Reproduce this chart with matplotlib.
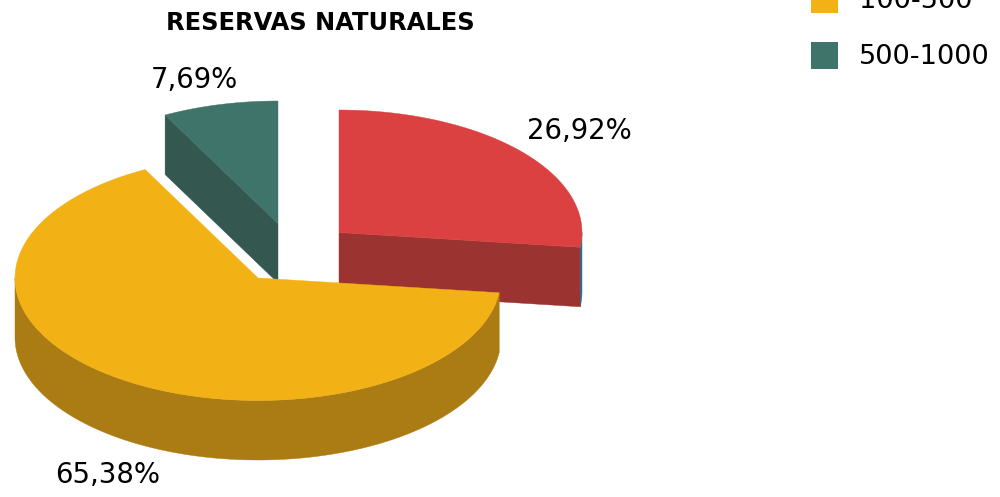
import numpy as np
import matplotlib
matplotlib.use("Agg")
import matplotlib.pyplot as plt
from matplotlib.patches import Rectangle

titulo = "RESERVAS NATURALES"
porcentajes = [26.92, 65.38, 7.69]
leyenda = ["100-500", "500-1000"]

colores = ["#DC4141", "#F2B115", "#3F746B"]
colores_lado = ["#9B3431", "#AB7B14", "#345750"]
color_borde = "#0A78A5"
colores_leyenda = colores[1:]

# centros de cada porcion en pixeles (explotadas)
centros = [(339, 232.5), (258, 278), (278, 223.5)]
pos_etiquetas = [(579, 131), (107.5, 475), (194, 80)]
RX, RY = 243, 122.5
ALTO = 59.5


def punto(c, ang):
    # angulo en grados, 0 arriba y sentido horario
    a = np.radians(ang)
    return c[0] + RX * np.sin(a), c[1] - RY * np.cos(a)


def arco(c, a0, a1, n=200):
    angs = np.linspace(a0, a1, n)
    x, y = punto(c, angs)
    return np.array(x), np.array(y)


fig = plt.figure(figsize=(10, 4.97), dpi=100)
ax = fig.add_axes([0, 0, 1, 1])
ax.set_xlim(0, 1000)
ax.set_ylim(497, 0)
ax.axis("off")

fracs = np.array(porcentajes) / sum(porcentajes) * 360
fin = np.cumsum(fracs)
ini = fin - fracs


def tapa(i):
    x, y = arco(centros[i], ini[i], fin[i])
    ax.fill(np.r_[centros[i][0], x], np.r_[centros[i][1], y], color=colores[i], lw=0.3)


def corte(i, ang):
    cx, cy = centros[i]
    px, py = punto(centros[i], ang)
    ax.fill([cx, px, px, cx], [cy, py, py + ALTO, cy + ALTO], color=colores_lado[i], lw=0.3)


def pared(c, a0, a1, color):
    x, y = arco(c, a0, a1)
    ax.fill(np.r_[x, x[::-1]], np.r_[y, y[::-1] + ALTO], color=color, lw=0.3)


# porcion verde
corte(2, ini[2])
tapa(2)
# porcion roja, con la tira azul del borde
pared(centros[0], 90, fin[0], color_borde)
corte(0, fin[0])
tapa(0)
# porcion amarilla
pared(centros[1], ini[1], 270, colores_lado[1])
tapa(1)

for p, (x, y) in zip(porcentajes, pos_etiquetas):
    ax.text(x, y, f"{p:.2f}%".replace(".", ","), fontsize=19.8, color="black",
            ha="center", va="center", family="DejaVu Sans")

ax.text(320, 23, titulo, fontsize=17.4, fontweight="bold", color="black",
        ha="center", va="center", family="DejaVu Sans")

# leyenda, la entrada de arriba queda cortada por el borde
for i, (nombre, col) in enumerate(zip(leyenda, colores_leyenda)):
    y = -14 + i * 56
    ax.add_patch(Rectangle((811, y), 27, 27, color=col, lw=0))
    ax.text(859, y + 15, nombre, fontsize=19.6, color="black", ha="left", va="center",
            family="DejaVu Sans")

fig.savefig("out.png", dpi=100)
